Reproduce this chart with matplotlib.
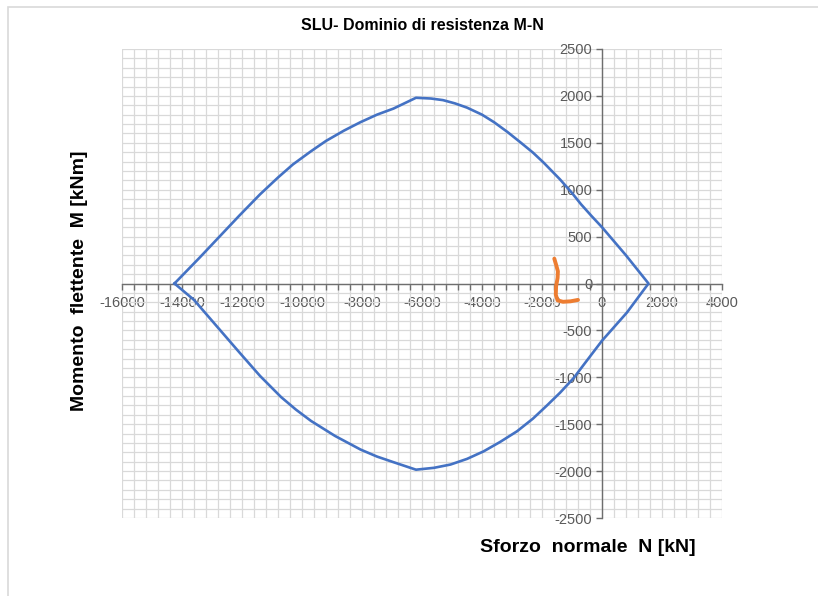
import matplotlib
matplotlib.use("Agg")
import matplotlib.pyplot as plt
from matplotlib.ticker import MultipleLocator
from matplotlib.patches import Rectangle

plt.rcParams['font.family'] = ['Liberation Sans', 'DejaVu Sans']
plt.rcParams['axes.unicode_minus'] = False

# M-N interaction domain, upper branch (left -> right)
n_upper = [-14250, -13400, -12100, -11400, -10800, -10300, -9700, -9200, -8600,
           -8050, -7500, -6950, -6200, -5700, -5300, -4900, -4500, -4000,
           -3600, -3150, -2700, -2300, -1950, -1400, -1000, -700, -350, 0,
           800, 1550]
m_upper = [0, 280, 720, 950, 1130, 1270, 1410, 1520, 1630,
           1720, 1800, 1865, 1980, 1972, 1955, 1920, 1875, 1800,
           1720, 1615, 1500, 1395, 1290, 1110, 965, 845, 720, 600,
           300, 0]

# lower branch (right -> left)
n_lower = [1550, 830, 0, -500, -950, -1400, -1850, -2300, -2830, -3400,
           -3950, -4500, -5050, -5600, -6200, -6950, -7500, -8050, -8900,
           -9700, -10200, -10700, -11400, -12100, -13600, -14250]
m_lower = [0, -310, -610, -820, -1010, -1165, -1305, -1440, -1575, -1690,
           -1790, -1870, -1930, -1965, -1985, -1905, -1845, -1770, -1625,
           -1465, -1345, -1210, -985, -730, -175, 0]

# hand-drawn orange mark
n_mark = [-1590, -1530, -1470, -1480, -1530, -1540, -1480, -1300, -1050, -800]
m_mark = [265, 200, 130, 60, -30, -120, -180, -195, -190, -175]

fig = plt.figure(figsize=(8.18, 5.96), dpi=100)
fig.patches.append(Rectangle((8 / 818, -0.1), 1.2, 1.1 - 7 / 596,
                             transform=fig.transFigure, fill=False,
                             edgecolor='#d9d9d9', linewidth=1.2, zorder=0))

ax = fig.add_axes([122 / 818, 1 - 518 / 596, 600 / 818, 469 / 596])
ax.set_xlim(-16000, 4000)
ax.set_ylim(-2500, 2500)

ax.plot(n_upper + n_lower[1:], m_upper + m_lower[1:], color='#4472C4',
        linewidth=1.9, solid_joinstyle='round', zorder=3)
ax.plot(n_mark, m_mark, color='#ED7D31', linewidth=2.8,
        solid_capstyle='round', solid_joinstyle='round', zorder=4)

for s in ['top', 'right']:
    ax.spines[s].set_visible(False)
ax.spines['left'].set_position(('data', 0))
ax.spines['bottom'].set_position(('data', 0))
for s in ['left', 'bottom']:
    ax.spines[s].set_color('#6e6e6e')
    ax.spines[s].set_linewidth(1.0)
    ax.spines[s].set_zorder(2)

ax.xaxis.set_major_locator(MultipleLocator(2000))
ax.xaxis.set_minor_locator(MultipleLocator(400))
ax.yaxis.set_major_locator(MultipleLocator(500))
ax.yaxis.set_minor_locator(MultipleLocator(100))

ax.grid(which='both', color='#d9d9d9', linewidth=0.9, zorder=0)
ax.set_axisbelow(True)

ax.tick_params(axis='x', which='major', direction='out', length=4, width=1,
               color='#6e6e6e', labelsize=10.5, labelcolor='#595959', pad=5)
ax.tick_params(axis='x', which='minor', direction='out', length=4, width=1,
               color='#6e6e6e')
ax.tick_params(axis='y', which='major', direction='out', length=4, width=1,
               color='#6e6e6e', labelsize=10.5, labelcolor='#595959', pad=3)
ax.tick_params(axis='y', which='minor', length=0)

fig.text(422 / 818, 1 - 25 / 596, 'SLU- Dominio di resistenza M-N',
         ha='center', va='center', fontsize=11.5, fontweight='bold')
fig.text(80 / 818, 1 - 281 / 596, 'Momento  flettente  M [kNm]',
         ha='center', va='center', rotation=90, fontsize=14, fontweight='bold')
fig.text(588 / 818, 1 - 547 / 596, 'Sforzo  normale  N [kN]',
         ha='center', va='center', fontsize=14, fontweight='bold')

fig.savefig('out.png', dpi=100)
